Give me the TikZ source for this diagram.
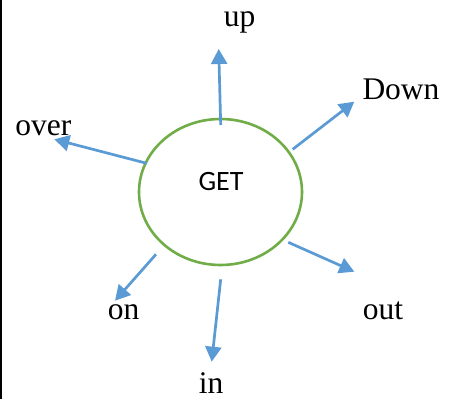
\documentclass[tikz,border=0pt]{standalone}
\usepackage{fontspec}
\setmainfont{Liberation Serif}
\newfontfamily\calfont{Carlito}
\usetikzlibrary{arrows.meta,shapes.geometric}
\definecolor{arrblue}{HTML}{5B9BD5}
\definecolor{ellgreen}{HTML}{70AD47}
\begin{document}
\begin{tikzpicture}[x=1pt,y=-1pt,
  lbl/.style={anchor=base,inner sep=0pt,font=\fontsize{31.5}{36}\selectfont},
  arr/.style={draw=arrblue,line width=2.7pt,-{Triangle[length=15pt,width=16pt]}}]
\useasboundingbox (0,0) rectangle (453,399);
\fill[white] (0,0) rectangle (453,399);
\draw[line width=2pt] (1,0) -- (1,399);
\node[draw=ellgreen,line width=2.6pt,ellipse,minimum width=163pt,minimum height=146pt,inner sep=0pt] (get) at (220.5,192) {};
\node[anchor=base,inner sep=0pt,font=\calfont\fontsize{28}{32}\selectfont] (gettxt) at (221,190) {GET};
\node[lbl] (up) at (239.5,26.7) {up};
\node[lbl] (down) at (401,99.3) {Down};
\node[lbl] (over) at (43.3,135) {over};
\node[lbl] (on) at (123.5,319) {on};
\node[lbl] (out) at (383,319) {out};
\node[lbl] (in) at (211,393) {in};
\coordinate (s1) at (220.7,125);   \coordinate (t1) at (218.7,49);
\coordinate (s2) at (292.7,149.3); \coordinate (t2) at (354.3,101.7);
\coordinate (s3) at (146.7,163.3); \coordinate (t3) at (54.3,139.3);
\coordinate (s4) at (156,254.3);   \coordinate (t4) at (115,300.7);
\coordinate (s5) at (220.7,279.3); \coordinate (t5) at (211.7,361.7);
\coordinate (s6) at (288.3,242.3); \coordinate (t6) at (354.3,271.7);
\draw[arr] (s1) -- (t1);
\draw[arr] (s2) -- (t2);
\draw[arr] (s3) -- (t3);
\draw[arr] (s4) -- (t4);
\draw[arr] (s5) -- (t5);
\draw[arr] (s6) -- (t6);
\end{tikzpicture}
\end{document}
